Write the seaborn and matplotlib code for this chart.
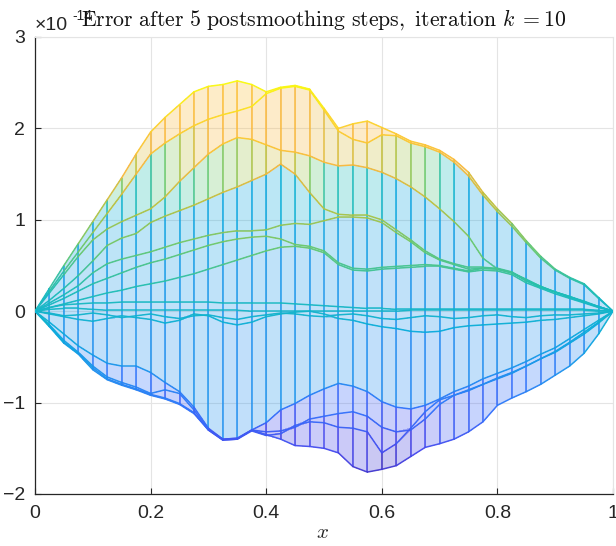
import numpy as np
import matplotlib
matplotlib.use("Agg")
import matplotlib.pyplot as plt
import seaborn as sns
from matplotlib.collections import LineCollection, PolyCollection
from matplotlib.colors import Normalize

# ---------------- data (values in units of 1e-14) ----------------
x_grid = np.round(np.arange(41) * 0.025, 3)

T1 = [0.00, 0.25, 0.50, 0.74, 0.98, 1.22, 1.46, 1.72, 1.96, 2.12,
      2.26, 2.40, 2.46, 2.48, 2.52, 2.48, 2.40, 2.45, 2.47, 2.43,
      2.22, 2.00, 2.05, 2.08, 2.01, 1.94, 1.86, 1.82, 1.76, 1.66,
      1.52, 1.30, 1.12, 0.96, 0.77, 0.60, 0.46, 0.37, 0.30, 0.15, 0.00]
T2 = [0.00, 0.22, 0.44, 0.65, 0.86, 1.07, 1.28, 1.50, 1.72, 1.84,
      1.94, 2.03, 2.10, 2.15, 2.19, 2.24, 2.38, 2.44, 2.46, 2.42,
      2.20, 1.97, 1.88, 1.84, 1.93, 1.92, 1.84, 1.80, 1.74, 1.63,
      1.48, 1.27, 1.09, 0.93, 0.75, 0.58, 0.45, 0.36, 0.29, 0.14, 0.00]
T3 = [0.00, 0.20, 0.40, 0.60, 0.78, 0.90, 0.98, 1.05, 1.12, 1.25,
      1.42, 1.57, 1.72, 1.83, 1.90, 1.88, 1.82, 1.76, 1.74, 1.70,
      1.63, 1.59, 1.60, 1.57, 1.52, 1.45, 1.36, 1.25, 1.12, 0.98,
      0.82, 0.58, 0.46, 0.42, 0.34, 0.27, 0.21, 0.16, 0.11, 0.05, 0.00]
T4 = [0.00, 0.12, 0.25, 0.39, 0.55, 0.72, 0.80, 0.85, 0.97, 1.04,
      1.10, 1.16, 1.23, 1.30, 1.36, 1.43, 1.50, 1.61, 1.50, 1.30,
      1.12, 1.06, 1.05, 1.05, 1.00, 0.89, 0.78, 0.66, 0.57, 0.52,
      0.48, 0.48, 0.47, 0.43, 0.34, 0.27, 0.21, 0.16, 0.10, 0.05, 0.00]
T5 = [0.00, 0.09, 0.18, 0.28, 0.42, 0.52, 0.57, 0.61, 0.65, 0.70,
      0.75, 0.79, 0.83, 0.86, 0.88, 0.88, 0.89, 0.94, 0.96, 0.95,
      0.99, 1.03, 1.03, 1.02, 0.97, 0.86, 0.76, 0.64, 0.56, 0.51,
      0.46, 0.47, 0.46, 0.42, 0.33, 0.26, 0.21, 0.16, 0.10, 0.05, 0.00]
T6 = [0.00, 0.07, 0.14, 0.22, 0.30, 0.36, 0.42, 0.48, 0.53, 0.57,
      0.62, 0.67, 0.72, 0.76, 0.79, 0.81, 0.82, 0.79, 0.73, 0.71,
      0.66, 0.53, 0.47, 0.46, 0.48, 0.49, 0.50, 0.51, 0.50, 0.47,
      0.44, 0.47, 0.46, 0.42, 0.35, 0.27, 0.21, 0.15, 0.10, 0.05, 0.00]
T7 = [0.00, 0.04, 0.08, 0.12, 0.16, 0.20, 0.23, 0.27, 0.30, 0.33,
      0.37, 0.41, 0.46, 0.51, 0.56, 0.61, 0.66, 0.70, 0.71, 0.69,
      0.64, 0.51, 0.45, 0.44, 0.46, 0.47, 0.48, 0.49, 0.49, 0.46,
      0.43, 0.45, 0.44, 0.40, 0.31, 0.25, 0.19, 0.14, 0.09, 0.04, 0.00]
Z1 = [0.00, 0.04, 0.07, 0.08, 0.09, 0.09, 0.10, 0.10, 0.10, 0.10,
      0.10, 0.10, 0.10, 0.09, 0.09, 0.09, 0.09, 0.09, 0.08, 0.07,
      0.06, 0.05, 0.04, 0.03, 0.03, 0.02, 0.02, 0.02, 0.02, 0.02,
      0.02, 0.02, 0.02, 0.02, 0.02, 0.02, 0.02, 0.02, 0.02, 0.01, 0.00]
Z2 = [0.00, 0.02, 0.03, 0.03, 0.02, 0.01, 0.01, 0.01, 0.01, 0.01,
      0.01, 0.01, 0.01, 0.01, 0.01, 0.00, 0.00, 0.00, 0.00, 0.00,
      0.00, 0.00, 0.00, 0.00, 0.00, 0.00, 0.01, 0.01, 0.01, 0.01,
      0.01, 0.01, 0.01, 0.01, 0.01, 0.01, 0.01, 0.01, 0.01, 0.00, 0.00]
Z3 = [0.00, -0.02, -0.05, -0.04, -0.02, -0.04, -0.07, -0.05, -0.03, -0.06,
      -0.08, -0.05, -0.04, -0.07, -0.09, -0.06, -0.04, -0.02, -0.03, -0.05,
      -0.06, -0.04, -0.03, -0.05, -0.08, -0.09, -0.07, -0.05, -0.06, -0.08,
      -0.07, -0.05, -0.04, -0.06, -0.07, -0.05, -0.04, -0.04, -0.03, -0.02, 0.00]
Z4 = [0.00, -0.03, -0.06, -0.09, -0.11, -0.08, -0.05, -0.07, -0.09, -0.13,
      -0.10, -0.03, -0.05, -0.12, -0.15, -0.12, -0.06, -0.03, -0.01, 0.00,
      -0.03, -0.08, -0.10, -0.14, -0.17, -0.19, -0.22, -0.23, -0.22, -0.18,
      -0.16, -0.15, -0.14, -0.13, -0.12, -0.10, -0.09, -0.07, -0.05, -0.03, 0.00]
N1 = [0.00, -0.17, -0.35, -0.47, -0.64, -0.75, -0.81, -0.86, -0.92, -0.96,
      -1.02, -1.12, -1.30, -1.41, -1.40, -1.30, -1.35, -1.40, -1.47, -1.48,
      -1.50, -1.55, -1.70, -1.76, -1.73, -1.69, -1.59, -1.49, -1.45, -1.40,
      -1.32, -1.21, -1.03, -0.95, -0.88, -0.80, -0.70, -0.60, -0.46, -0.25, 0.00]
N2 = [0.00, -0.12, -0.25, -0.38, -0.48, -0.57, -0.60, -0.60, -0.67, -0.78,
      -0.88, -1.05, -1.28, -1.40, -1.39, -1.30, -1.22, -1.08, -1.01, -0.92,
      -0.85, -0.79, -0.82, -0.88, -0.99, -1.05, -1.07, -1.03, -0.96, -0.88,
      -0.82, -0.74, -0.68, -0.62, -0.55, -0.47, -0.40, -0.30, -0.20, -0.10, 0.00]
N3 = [0.00, -0.15, -0.32, -0.45, -0.60, -0.72, -0.78, -0.83, -0.90, -0.86,
      -0.90, -1.08, -1.29, -1.40, -1.39, -1.30, -1.32, -1.31, -1.27, -1.18,
      -1.15, -1.12, -1.10, -1.15, -1.27, -1.32, -1.30, -1.18, -1.02, -0.92,
      -0.86, -0.80, -0.74, -0.68, -0.60, -0.52, -0.44, -0.34, -0.23, -0.12, 0.00]
N4 = [0.00, -0.16, -0.34, -0.46, -0.62, -0.74, -0.80, -0.85, -0.91, -0.95,
      -1.01, -1.11, -1.30, -1.41, -1.40, -1.31, -1.36, -1.34, -1.25, -1.21,
      -1.22, -1.27, -1.28, -1.32, -1.55, -1.45, -1.28, -1.10, -0.97, -0.92,
      -0.87, -0.80, -0.73, -0.67, -0.60, -0.52, -0.45, -0.35, -0.25, -0.13, 0.00]

x_ticks = [0, 0.2, 0.4, 0.6, 0.8, 1]
x_ticklabels = ["0", "0.2", "0.4", "0.6", "0.8", "1"]
y_ticks = [-2, -1, 0, 1, 2, 3]
title_text = r"$\mathrm{Error\ after\ 5\ postsmoothing\ steps,\ iteration}\ k\;{=}\mathrm{10}$"

# ---------------- style ----------------
sns.set_theme(style="white")
plt.rcParams["font.family"] = ["Liberation Sans", "DejaVu Sans"]

parula = [(0.242, 0.150, 0.660), (0.275, 0.280, 0.930), (0.200, 0.450, 0.990),
          (0.120, 0.580, 0.930), (0.040, 0.680, 0.860), (0.130, 0.750, 0.700),
          (0.420, 0.790, 0.420), (0.740, 0.760, 0.240), (0.980, 0.720, 0.240),
          (0.990, 0.820, 0.180), (0.976, 0.983, 0.054)]
cmap = sns.blend_palette(parula, n_colors=256, as_cmap=True)

fig = plt.figure(figsize=(6.16, 5.46), dpi=100)
ax = fig.add_axes([35 / 616, 1 - 494 / 546, 578 / 616, 457 / 546])

x = np.asarray(x_grid, dtype=float)
Z = np.array([T1, T2, T3, T4, T5, T6, T7, Z1, Z2, Z3, Z4, N1, N2, N3, N4], dtype=float)
S = np.sort(Z, axis=0)

lnorm = Normalize(-2.0, 2.5)


def ref_of(lo, hi):
    if lo >= 0:
        return lo
    if hi <= 0:
        return hi
    return 0.0


def vfrac(r):
    # colour position for the mesh columns (nearest-to-zero end of each piece)
    if r >= 0:
        return float(np.interp(r, [0.0, 0.9, 1.2, 1.7, 2.2], [0.31, 0.38, 0.58, 0.79, 0.83]))
    return max(0.31 + 0.17 * r, 0.04)


# light tint between neighbouring levels
polys, pcols = [], []
for j in range(len(x) - 1):
    for k in range(S.shape[0] - 1):
        lo0, hi0, lo1, hi1 = S[k, j], S[k + 1, j], S[k, j + 1], S[k + 1, j + 1]
        if hi0 - lo0 < 1e-9 and hi1 - lo1 < 1e-9:
            continue
        polys.append([(x[j], lo0), (x[j + 1], lo1), (x[j + 1], hi1), (x[j], hi0)])
        r = 0.5 * (ref_of(lo0, hi0) + ref_of(lo1, hi1))
        pcols.append(cmap(vfrac(r)))
ax.add_collection(PolyCollection(polys, facecolors=pcols, edgecolors="none",
                                 alpha=0.28, antialiaseds=False, zorder=2))

# vertical mesh lines
segs, cols = [], []
for j in range(len(x)):
    for k in range(S.shape[0] - 1):
        lo, hi = S[k, j], S[k + 1, j]
        if hi - lo < 1e-9:
            continue
        segs.append([(x[j], lo), (x[j], hi)])
        cols.append(cmap(vfrac(ref_of(lo, hi))))
ax.add_collection(LineCollection(segs, colors=cols, linewidths=1.3, alpha=0.8, zorder=3))

# curves
for row in Z:
    pts = np.column_stack([x, row])
    cs = np.stack([pts[:-1], pts[1:]], axis=1)
    cc = [cmap(lnorm(0.5 * (a + b))) for a, b in zip(row[:-1], row[1:])]
    ax.add_collection(LineCollection(cs, colors=cc, linewidths=1.1, alpha=0.95,
                                     capstyle="round", joinstyle="round", zorder=4))

ax.set_xlim(0, 1)
ax.set_ylim(-2, 3)
ax.set_xticks(x_ticks)
ax.set_xticklabels(x_ticklabels)
ax.set_yticks(y_ticks)
ax.grid(True, color="#e4e4e4", linewidth=0.8)
ax.set_axisbelow(True)
for side in ["top", "right"]:
    ax.spines[side].set_color("#e4e4e4")
    ax.spines[side].set_linewidth(0.8)
for side in ["left", "bottom"]:
    ax.spines[side].set_color("#262626")
    ax.spines[side].set_linewidth(0.9)
ax.tick_params(axis="both", direction="in", length=4.5, width=0.8, colors="#262626",
               labelsize=14, bottom=True, left=True, top=False, right=False)
ax.tick_params(axis="x", pad=8)
ax.tick_params(axis="y", pad=7)

fig.text(35 / 616, 1 - 30 / 546, "\u00d710", fontsize=14, color="#262626",
         ha="left", va="baseline")
fig.text(72 / 616, 1 - 20 / 546, "-14", fontsize=10, color="#262626",
         ha="left", va="baseline")
fig.text(324 / 616, 1 - 26 / 546, title_text, fontsize=15.7, color="#111111",
         ha="center", va="baseline", math_fontfamily="cm")
fig.text(323 / 616, 1 - 538 / 546, r"$x$", fontsize=15, color="#262626",
         ha="center", va="baseline", math_fontfamily="cm")

fig.savefig("out.png", dpi=100)
